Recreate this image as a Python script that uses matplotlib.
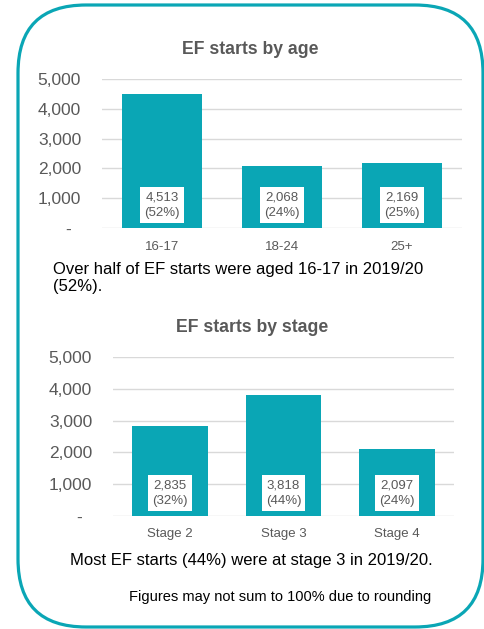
import matplotlib
matplotlib.use("Agg")
import matplotlib.pyplot as plt
from matplotlib.patches import FancyBboxPatch

plt.rcParams['font.family'] = ['Liberation Sans', 'DejaVu Sans']

# data
age_groups = ['16-17', '18-24', '25+']
age_starts = [4513, 2068, 2169]
age_pct = [52, 24, 25]

stages = ['Stage 2', 'Stage 3', 'Stage 4']
stage_starts = [2835, 3818, 2097]
stage_pct = [32, 44, 24]

y_ticks = [0, 1000, 2000, 3000, 4000, 5000]
y_ticklabels = ['-  ', '1,000', '2,000', '3,000', '4,000', '5,000']

teal = '#0aa6b5'
grey = '#595959'


def bar_panel(ax, cats, vals, pcts):
    x = range(len(cats))
    ax.bar(x, vals, width=0.667, color=teal, zorder=2)
    ax.set_xlim(-0.5, len(cats) - 0.5)
    ax.set_ylim(0, 5000)
    ax.set_yticks(y_ticks)
    ax.set_yticklabels(y_ticklabels)
    ax.set_xticks(list(x))
    ax.set_xticklabels(cats)
    ax.tick_params(axis='y', length=0, pad=15, labelsize=12.5, labelcolor=grey)
    ax.tick_params(axis='x', length=0, pad=9, labelsize=9.5, labelcolor=grey)
    ax.grid(axis='y', color='#d9d9d9', linewidth=1)
    ax.set_axisbelow(True)
    for s in ax.spines.values():
        s.set_visible(False)
    ax.set_facecolor('none')
    # white value boxes near the bottom of each bar
    for i, (v, p) in enumerate(zip(vals, pcts)):
        ax.annotate(f'{v:,}\n({p}%)', xy=(i, 0), xytext=(0, 16.5),
                    textcoords='offset points', ha='center', va='center',
                    fontsize=9.5, color=grey, linespacing=1.4, zorder=3,
                    bbox=dict(boxstyle='square,pad=0.3', fc='white', ec='none'))


fig = plt.figure(figsize=(4.85, 6.29), dpi=100)

# background layer in pixel units for the rounded frame and text
bg = fig.add_axes([0, 0, 1, 1])
bg.set_xlim(0, 485)
bg.set_ylim(629, 0)
bg.axis('off')
frame = FancyBboxPatch((18, 5), 465, 622, boxstyle='round,pad=0,rounding_size=68',
                       fc='white', ec=teal, lw=2.3)
bg.add_patch(frame)

bg.text(250, 50, 'EF starts by age', ha='center', va='center',
        fontsize=12.7, fontweight='bold', color=grey)
bg.text(53, 278, 'Over half of EF starts were aged 16-17 in 2019/20\n(52%).',
        ha='left', va='center', fontsize=12, color='black', linespacing=1.2)
bg.text(252, 327, 'EF starts by stage', ha='center', va='center',
        fontsize=12.7, fontweight='bold', color=grey)
bg.text(251, 560, 'Most EF starts (44%) were at stage 3 in 2019/20.',
        ha='center', va='center', fontsize=12, color='black')
bg.text(280, 597, 'Figures may not sum to 100% due to rounding',
        ha='center', va='center', fontsize=10.5, color='black')

ax1 = fig.add_axes([102 / 485, (629 - 228) / 629, 360 / 485, 149 / 629])
bar_panel(ax1, age_groups, age_starts, age_pct)

ax2 = fig.add_axes([113 / 485, (629 - 516) / 629, 341 / 485, 159 / 629])
bar_panel(ax2, stages, stage_starts, stage_pct)

fig.savefig('out.png', dpi=100)
